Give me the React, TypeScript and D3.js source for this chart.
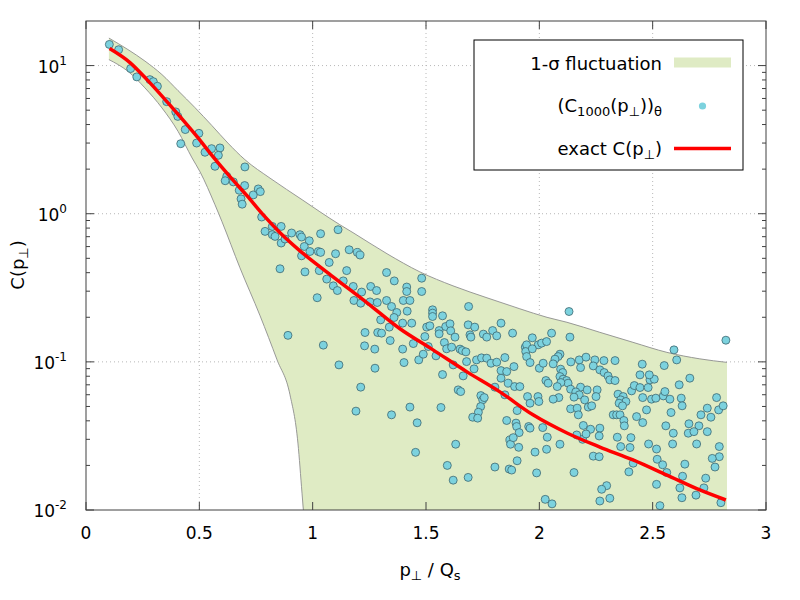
import React from 'react';
import * as d3 from 'd3';

// sampled (C_1000(p))_theta values: [p/Qs, C]
const samplePoints: [number, number][] = [
  [0.103,13.9],[0.144,12.8],[0.197,9.55],[0.224,8.39],[0.282,8.04],[0.297,7.79],[0.315,7.25],[0.356,5.71],
  [0.396,4.87],[0.405,4.54],[0.438,3.70],[0.418,2.97],[0.488,3.00],[0.498,3.49],[0.525,2.60],[0.554,2.75],
  [0.591,2.78],[0.584,2.48],[0.569,2.09],[0.701,2.07],[0.621,1.79],[0.614,1.67],[0.650,1.64],[0.676,1.44],
  [0.700,1.55],[0.738,1.34],[0.760,1.47],[0.769,1.41],[0.684,1.26],[0.689,1.16],[0.775,0.950],
  [0.790,0.760],[0.822,0.821],[0.822,0.722],[0.834,0.703],[0.861,0.821],[0.861,0.634],[0.878,0.675],[0.907,0.741],
  [0.944,0.722],[0.951,0.696],[0.985,0.657],[1.035,0.733],[1.112,0.780],[0.963,0.601],[0.856,0.425],[0.891,0.151],
  [0.951,0.520],[0.988,0.556],[1.025,0.556],[1.035,0.548],[1.101,0.537],[1.161,0.571],[1.197,0.548],[1.209,0.526],
  [1.073,0.469],[0.966,0.405],[1.029,0.413],[1.150,0.413],[1.062,0.362],[1.135,0.352],[1.326,0.401],[1.360,0.352],
  [1.481,0.367],[1.091,0.326],[1.109,0.303],[1.179,0.323],[1.216,0.296],[1.256,0.323],[1.282,0.303],[1.415,0.320],
  [1.415,0.2985],[1.481,0.2985],[1.020,0.271],[1.182,0.2596],[1.212,0.249],[1.253,0.254],[1.285,0.2516],[1.326,0.2596],
  [1.348,0.2365],[1.400,0.2596],[1.429,0.2596],[1.417,0.220],[1.371,0.2154],[1.300,0.1922],[1.359,0.1993],[1.397,0.1826],
  [1.437,0.1826],[1.338,0.1716],[1.529,0.2246],[1.529,0.2134],[1.529,0.2024],[1.573,0.2046],[1.688,0.2365],[1.231,0.1578],
  [1.287,0.1578],[1.304,0.1563],[1.342,0.1393],[1.229,0.1283],[1.274,0.1219],[1.397,0.1219],[1.047,0.1297],[1.116,0.0954],
  [1.275,0.0906],[1.403,0.0989],[1.444,0.1329],[1.468,0.1031],[1.488,0.1127],[1.495,0.1482],[1.503,0.1716],[1.517,0.1751],
  [1.558,0.1627],[1.558,0.1546],[1.587,0.1732],[1.606,0.1806],[1.609,0.162],[1.628,0.1469],[1.581,0.135],[1.591,0.1225],
  [1.613,0.1257],[1.510,0.1269],[1.544,0.1098],[1.686,0.1778],[1.715,0.1716],[1.694,0.1522],[1.698,0.1469],[1.753,0.1539],
  [1.768,0.1469],[1.794,0.1627],[1.812,0.1499],[1.831,0.1826],[1.882,0.1563],[1.969,0.1453],[1.995,0.1303],[2.010,0.1338],
  [2.032,0.1371],[1.650,0.1219],[1.660,0.1192],[1.676,0.1168],[1.723,0.1031],[1.745,0.1064],[1.768,0.1059],[1.787,0.0979],
  [1.812,0.0995],[1.848,0.1069],[1.679,0.1004],[1.712,0.0897],[1.664,0.0804],[1.573,0.0821],[1.620,0.0954],[1.831,0.0873],
  [1.856,0.086],[1.888,0.0929],[1.831,0.0776],[1.863,0.0718],[1.891,0.0681],[1.914,0.0681],[1.938,0.1257],[1.944,0.1303],
  [1.940,0.1174],[1.944,0.1086],[1.959,0.0989],[2.000,0.0906],[2.017,0.0979],[1.969,0.1225],[2.029,0.0748],[2.039,0.0718],
  [1.804,0.0675],[1.642,0.0647],[1.653,0.063],[1.742,0.0592],[1.750,0.0554],[1.757,0.0574],[1.741,0.0499],[1.731,0.0457],
  [1.706,0.0423],[1.728,0.0417],[1.848,0.0599],[1.948,0.0583],[1.994,0.0583],[1.998,0.054],[1.959,0.0526],[1.902,0.0469],
  [1.856,0.0402],[1.897,0.0386],[1.900,0.0366],[1.953,0.0366],[1.959,0.0357],[1.911,0.0333],[1.870,0.0297],[1.873,0.0278],
  [1.885,0.0308],[1.909,0.0265],[1.981,0.0246],[2.015,0.036],[2.035,0.031],[2.032,0.0257],[1.902,0.0215],[1.867,0.0189],
  [1.878,0.0186],[1.804,0.0195],[1.988,0.0178],[2.026,0.0118],[1.686,0.0166],[1.620,0.0159],[1.594,0.020],[1.631,0.0278],
  [1.566,0.0492],[1.429,0.0495],[1.461,0.0388],[1.348,0.0439],[1.191,0.0465],[1.212,0.0675],[1.454,0.0245],
  [2.131,0.2187],[2.823,0.140],[2.135,0.1469],[2.054,0.1563],[2.594,0.1205],[2.606,0.1031],[2.091,0.1127],[2.083,0.1086],
  [2.069,0.1043],[2.061,0.0969],[2.139,0.0999],[2.176,0.1031],[2.206,0.1076],[2.245,0.1031],[2.285,0.102],[2.334,0.102],
  [2.182,0.0915],[2.238,0.0939],[2.267,0.0883],[2.286,0.0847],[2.094,0.0893],[2.103,0.0847],[2.091,0.0796],[2.105,0.0764],
  [2.120,0.0748],[2.127,0.0718],[2.095,0.0725],[2.079,0.0681],[2.138,0.0654],[2.182,0.0675],[2.161,0.0627],[2.176,0.0599],
  [2.211,0.0647],[2.255,0.0647],[2.250,0.0583],[2.153,0.0578],[2.200,0.0554],[2.216,0.0495],[2.231,0.0505],[2.138,0.0482],
  [2.167,0.0487],[2.172,0.0439],[2.086,0.0574],[2.061,0.056],[2.194,0.0372],[2.226,0.0351],[2.191,0.030],[2.206,0.0326],
  [2.165,0.0321],[2.091,0.0278],[2.267,0.0357],[2.264,0.0316],[2.238,0.0231],[2.264,0.0229],[2.153,0.0179],[2.303,0.0804],
  [2.311,0.0756],[2.334,0.0748],[2.347,0.0605],[2.370,0.0583],[2.359,0.0554],[2.382,0.054],[2.352,0.0526],[2.367,0.0505],
  [2.326,0.0439],[2.341,0.0439],[2.356,0.0439],[2.373,0.0402],[2.375,0.037],[2.344,0.031],[2.359,0.0268],[2.407,0.0637],
  [2.419,0.0692],[2.444,0.0671],[2.456,0.0574],[2.480,0.0671],[2.488,0.0756],[2.507,0.0764],[2.495,0.056],[2.514,0.0569],
  [2.547,0.0589],[2.554,0.063],[2.429,0.0427],[2.456,0.0389],[2.473,0.0474],[2.404,0.0308],[2.400,0.0264],[2.414,0.0207],
  [2.395,0.0181],[2.454,0.0965],[2.444,0.0817],[2.485,0.0817],[2.551,0.0944],[2.482,0.0279],[2.517,0.0258],[2.520,0.022],
  [2.544,0.0202],[2.517,0.0149],[2.576,0.056],[2.581,0.0455],[2.558,0.037],[2.591,0.033],[2.588,0.0279],[2.562,0.0179],
  [2.617,0.070],[2.626,0.0569],[2.630,0.0505],[2.664,0.0776],[2.660,0.0382],[2.657,0.033],[2.704,0.037],[2.682,0.0338],
  [2.694,0.0279],[2.642,0.0204],[2.632,0.0169],[2.620,0.0141],[2.629,0.0121],[2.691,0.0126],[2.713,0.0439],[2.741,0.0487],
  [2.757,0.0423],[2.741,0.0338],[2.782,0.0574],[2.791,0.0474],[2.811,0.0505],[2.794,0.0268],[2.794,0.0229],[2.763,0.0223],
  [2.775,0.0195],[2.734,0.0164],[2.726,0.0141],[2.801,0.0112],[2.532,0.0107],[2.267,0.0115],[2.311,0.012],[2.297,0.0146],
  [2.275,0.0138],[2.056,0.011],
];

// exact C(p)
const exactP = [0.104,0.194,0.269,0.357,0.415,0.490,0.560,0.635,0.710,0.781,0.856,0.944,1.090,1.240,1.385,1.531,1.681,1.826,1.972,2.122,2.267,2.413,2.563,2.708,2.823];
const exactC = [13.04,10.48,8.04,5.71,4.52,3.31,2.43,1.78,1.324,0.985,0.745,0.562,0.375,0.2505,0.1672,0.1205,0.0856,0.0627,0.0439,0.0331,0.0266,0.0218,0.0172,0.01365,0.01168];

// 1-sigma band, upper edge
const upperP = [0.101,0.185,0.260,0.335,0.406,0.481,0.556,0.626,0.701,0.812,0.957,1.032,1.120,1.178,1.328,1.473,1.619,1.769,1.914,2.034,2.122,2.267,2.413,2.563,2.708,2.828];
const upperC = [15.34,12.83,10.73,8.70,6.78,5.20,3.93,3.00,2.317,1.738,1.233,1.031,0.843,0.745,0.537,0.405,0.326,0.2707,0.2282,0.1998,0.185,0.1583,0.1355,0.1159,0.1048,0.0992];
// 1-sigma band, lower edge
const lowerP = [0.101,0.185,0.260,0.335,0.406,0.468,0.503,0.569,0.600,0.679,0.768,0.843,0.900,0.935,0.953,0.959];
const lowerC = [10.98,9.15,7.07,5.18,3.60,2.38,1.92,1.15,0.883,0.432,0.2046,0.1031,0.0599,0.0283,0.0130,0.01];
const bandEndP = 2.828;

const xTicks = [0, 0.5, 1, 1.5, 2, 2.5, 3];
const xTickLabels = ['0', '0.5', '1', '1.5', '2', '2.5', '3'];
const yDecades = [-2, -1, 0, 1];

const FONT = "'DejaVu Sans', sans-serif";
const BAND_FILL = '#dfebc4';
const DOT_FILL = '#7cd2de';

export default function App() {
  const L = 86, R = 766, T = 21, B = 510;
  const x = d3.scaleLinear().domain([0, 3]).range([L, R]);
  const y = d3.scaleLog().domain([0.01, 20]).range([B, T]);

  const line = d3.line<[number, number]>().x(d => x(d[0])).y(d => y(d[1])).curve(d3.curveMonotoneX);
  const upperPts: [number, number][] = upperP.map((p, i) => [p, upperC[i]]);
  const lowerPts: [number, number][] = lowerP.map((p, i) => [p, lowerC[i]]);
  const lowerFull: [number, number][] = [...lowerPts, [bandEndP, 0.01]];
  const upPath = line(upperPts) || '';
  const lowRev = line([...lowerFull].reverse()) || '';
  const bandPath = upPath + 'L' + lowRev.slice(1) + 'Z';
  const exactPath = line(exactP.map((p, i) => [p, exactC[i]] as [number, number])) || '';

  const minor: number[] = [];
  yDecades.forEach(e => {
    for (let m = 2; m <= 9; m++) {
      const v = m * Math.pow(10, e);
      if (v < 20) minor.push(v);
    }
  });

  const axisCol = '#404040';
  const gridStyle = { stroke: '#b8b8b8', strokeWidth: 1, strokeDasharray: '1,3' };

  return (
    <div style={{ position: 'absolute', left: 0, top: 0, width: 800, height: 600, background: '#fff' }}>
      <svg width={800} height={600} style={{ display: 'block' }} fontFamily={FONT}>
        <defs>
          <clipPath id="plotclip"><rect x={L} y={T} width={R - L} height={B - T} /></clipPath>
        </defs>
        <rect x={0} y={0} width={800} height={600} fill="#fff" />
        {xTicks.slice(1, -1).map(t => (
          <line key={'gx' + t} x1={x(t)} x2={x(t)} y1={T} y2={B} {...gridStyle} />
        ))}
        {yDecades.slice(1).map(e => (
          <line key={'gy' + e} x1={L} x2={R} y1={y(Math.pow(10, e))} y2={y(Math.pow(10, e))} {...gridStyle} />
        ))}
        <g clipPath="url(#plotclip)">
          <path d={bandPath} fill={BAND_FILL} stroke="none" />
          <path d={upPath} fill="none" stroke="#8f8f8f" strokeWidth={0.9} />
          <path d={line(lowerPts) || ''} fill="none" stroke="#8f8f8f" strokeWidth={0.9} />
          {samplePoints.map((d, i) => (
            <circle key={i} cx={x(d[0])} cy={y(d[1])} r={4} fill={DOT_FILL} stroke="#3e6770" strokeWidth={0.8} />
          ))}
          <path d={exactPath} fill="none" stroke="#ff0000" strokeWidth={3.5} strokeLinejoin="round" />
        </g>
        <rect x={L} y={T} width={R - L} height={B - T} fill="none" stroke={axisCol} strokeWidth={1} />
        {xTicks.map((t, i) => (
          <g key={'xt' + t}>
            <line x1={x(t)} x2={x(t)} y1={B} y2={B - 8} stroke={axisCol} />
            <line x1={x(t)} x2={x(t)} y1={T} y2={T + 8} stroke={axisCol} />
            <text x={x(t)} y={539} textAnchor="middle" fontSize={17} fill="#000">{xTickLabels[i]}</text>
          </g>
        ))}
        {yDecades.map(e => {
          const yy = y(Math.pow(10, e));
          return (
            <g key={'yt' + e}>
              <line x1={L} x2={L + 8} y1={yy} y2={yy} stroke={axisCol} />
              <line x1={R} x2={R - 8} y1={yy} y2={yy} stroke={axisCol} />
              <text x={67} y={yy + 7} textAnchor="end" fontSize={17} fill="#000">
                10<tspan dy={-8} fontSize={12}>{e}</tspan>
              </text>
            </g>
          );
        })}
        {minor.map(v => (
          <g key={'ym' + v}>
            <line x1={L} x2={L + 4} y1={y(v)} y2={y(v)} stroke={axisCol} />
            <line x1={R} x2={R - 4} y1={y(v)} y2={y(v)} stroke={axisCol} />
          </g>
        ))}
        <text x={430} y={576} textAnchor="middle" fontSize={18} fill="#000">
          p<tspan dy={4} fontSize={13}>⊥</tspan><tspan dy={-4}> / Q</tspan><tspan dy={4} fontSize={13}>s</tspan>
        </text>
        <text transform="translate(24,265) rotate(-90)" textAnchor="middle" fontSize={18} fill="#000">
          C(p<tspan dy={4} fontSize={13}>⊥</tspan><tspan dy={-4}>)</tspan>
        </text>
        <rect x={474} y={40} width={269} height={130} fill="#fff" stroke="#000" strokeWidth={1} />
        <text x={662} y={69.5} textAnchor="end" fontSize={18} fill="#000">1-σ fluctuation</text>
        <rect x={674} y={57.5} width={57} height={10} fill={BAND_FILL} />
        <text x={662} y={112} textAnchor="end" fontSize={18} fill="#000">
          (C<tspan dy={4} fontSize={13}>1000</tspan><tspan dy={-4}>(p</tspan><tspan dy={4} fontSize={13}>⊥</tspan><tspan dy={-4}>))</tspan><tspan dy={4} fontSize={13}>θ</tspan>
        </text>
        <circle cx={702.5} cy={106} r={3.6} fill={DOT_FILL} />
        <text x={662} y={154.5} textAnchor="end" fontSize={18} fill="#000">
          exact C(p<tspan dy={4} fontSize={13}>⊥</tspan><tspan dy={-4}>)</tspan>
        </text>
        <line x1={674} x2={731} y1={148.5} y2={148.5} stroke="#ff0000" strokeWidth={3.5} />
      </svg>
    </div>
  );
}
